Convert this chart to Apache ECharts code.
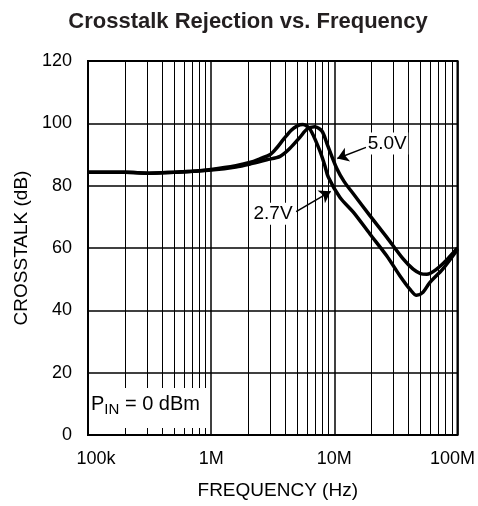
<!DOCTYPE html>
<html><head><meta charset="utf-8">
<script src="https://cdn.jsdelivr.net/npm/echarts@6/dist/echarts.min.js"></script>
<style>html,body{margin:0;padding:0;background:#fff}#c{width:478px;height:506px}</style>
</head><body><div id="c"></div>
<script>
// ---- data ----
const tickLabels = ['100k', '1M', '10M', '100M'];
const yTickValues = [0, 20, 40, 60, 80, 100, 120];

// 5.0V supply curve (frequency in Hz, crosstalk in dB)
const freq50 = [1e5, 2e5, 3.16e5, 5e5, 7.08e5, 1e6, 1.585e6, 2.09e6, 2.82e6, 3.63e6, 4.365e6,
  5.25e6, 6.03e6, 6.92e6, 7.94e6, 8.71e6, 1.047e7, 1.202e7, 1.426e7, 1.945e7, 2.661e7,
  3.622e7, 4.365e7, 5.012e7, 5.623e7, 6.761e7, 8.318e7, 1e8];
const db50 = [84.3, 84.3, 84.0, 84.3, 84.6, 85.0, 86.0, 87.0, 88.3, 89.4, 92.0,
  95.5, 98.2, 98.9, 97.5, 93.5, 85.5, 81.3, 77.4, 70.4, 63.5,
  56.5, 53.2, 51.8, 51.6, 53.2, 56.5, 60.0];

// 2.7V supply curve
const freq27 = [1e5, 2e5, 3.16e5, 5e5, 7.08e5, 1e6, 1.585e6, 2.09e6, 2.51e6, 3.02e6, 3.39e6,
  3.89e6, 4.47e6, 5.01e6, 5.56e6, 6.31e6, 7.59e6, 8.32e6, 8.93e6, 1.112e7, 1.426e7, 1.945e7,
  2.661e7, 3.404e7, 4.102e7, 4.656e7, 5.248e7, 5.957e7, 7.586e7, 1e8];
const db27 = [84.3, 84.3, 84.0, 84.3, 84.6, 85.2, 86.4, 87.5, 88.7, 90.0, 92.0,
  95.0, 97.8, 99.2, 99.6, 98.3, 91.4, 86.8, 82.8, 76.2, 71.5, 64.5,
  57.5, 51.1, 46.8, 44.8, 45.8, 48.9, 53.2, 59.5];

// annotations (data coordinates)
const label50 = {text: '5.0V', at: [2.69e7, 93.5], arrowFrom: [1.81e7, 92.3], arrowTo: [1.057e7, 88.7]};
const label27 = {text: '2.7V', at: [3.18e6, 71.0], arrowFrom: [4.9e6, 71.7], arrowTo: [9.35e6, 78.2]};

// minor log grid lines (2..9 x each decade)
const decades = [1e5, 1e6, 1e7];
const minorMult = [2, 3, 4, 5, 6, 7, 8, 9];

const FONT = 'Liberation Sans, Arial, Helvetica, sans-serif';
const minorLines = [];
decades.forEach(d => minorMult.forEach(m => minorLines.push({xAxis: d * m})));

const zip = (xs, ys) => xs.map((x, i) => [x, ys[i]]);

function annotation(a) {
  return {
    markLine: {
      silent: true, animation: false,
      symbol: ['none', 'arrow'], symbolSize: 11,
      label: {show: false},
      lineStyle: {color: '#000', width: 1.5, type: 'solid'},
      data: [[{coord: a.arrowFrom}, {coord: a.arrowTo}]]
    },
    markPoint: {
      silent: true, animation: false,
      data: [{
        coord: a.at, symbol: 'rect', symbolSize: [42, 22],
        itemStyle: {color: '#fff'},
        label: {show: true, position: 'inside', formatter: a.text, color: '#000',
          fontSize: 19, fontFamily: FONT}
      }]
    }
  };
}

const chart = echarts.init(document.getElementById('c'), null, {renderer: 'canvas'});
const option = {
  animation: false,
  backgroundColor: '#fff',
  title: {
    text: 'Crosstalk Rejection vs. Frequency',
    left: 243, textAlign: 'center', top: 6,
    textStyle: {fontSize: 22, fontWeight: 'bold', color: '#231f20', fontFamily: FONT}
  },
  grid: {left: 88, top: 61, width: 370, height: 374, show: true,
    borderColor: '#000', borderWidth: 2, backgroundColor: 'transparent'},
  xAxis: {
    type: 'log', logBase: 10, min: 1e5, max: 1e8,
    name: 'FREQUENCY (Hz)', nameLocation: 'middle', nameGap: 46,
    nameTextStyle: {fontSize: 19, color: '#000', fontFamily: FONT, padding: [0, 0, 0, 10]},
    axisLine: {show: false}, axisTick: {show: false},
    splitLine: {show: true, lineStyle: {color: '#000', width: 1.5}},
    axisLabel: {
      color: '#000', fontSize: 18, fontFamily: FONT, margin: 15,
      formatter: v => {
        const i = Math.round(Math.log10(v)) - 5;
        const t = tickLabels[i];
        if (i === 0) return '{first|' + t + '}';
        if (i === tickLabels.length - 1) return '{last|' + t + '}';
        return t;
      },
      rich: {
        first: {fontSize: 18, fontFamily: FONT, color: '#000', padding: [0, 0, 0, 16]},
        last: {fontSize: 18, fontFamily: FONT, color: '#000', padding: [0, 10, 0, 0]}
      }
    }
  },
  yAxis: {
    type: 'value', min: yTickValues[0], max: yTickValues[yTickValues.length - 1], interval: 20,
    name: 'CROSSTALK (dB)', nameLocation: 'middle', nameGap: 55,
    nameTextStyle: {fontSize: 19, color: '#000', fontFamily: FONT},
    axisLine: {show: false}, axisTick: {show: false},
    splitLine: {show: true, lineStyle: {color: '#000', width: 1.5}},
    axisLabel: {color: '#000', fontSize: 18, fontFamily: FONT, margin: 16}
  },
  series: [
    {
      type: 'line', data: [], z: 1, silent: true,
      markLine: {
        silent: true, animation: false, symbol: ['none', 'none'],
        label: {show: false},
        lineStyle: {color: '#000', width: 1, type: 'solid'},
        data: minorLines
      }
    },
    Object.assign({
      name: '5.0V', type: 'line', data: zip(freq50, db50), smooth: 0.3,
      showSymbol: false, z: 5,
      lineStyle: {color: '#000', width: 3.5}
    }, annotation(label50)),
    Object.assign({
      name: '2.7V', type: 'line', data: zip(freq27, db27), smooth: 0.3,
      showSymbol: false, z: 5,
      lineStyle: {color: '#000', width: 3.5}
    }, annotation(label27))
  ],
  graphic: [
    {type: 'rect', z: 100, shape: {x: 89, y: 388, width: 120, height: 40}, style: {fill: '#fff'}},
    {type: 'text', z: 101, x: 91, y: 393,
      style: {
        text: '{p|P}{s|IN}{p| = 0 dBm}',
        rich: {
          p: {fontSize: 20, fontFamily: FONT, fill: '#000', lineHeight: 22},
          s: {fontSize: 15, fontFamily: FONT, fill: '#000', padding: [12, 0, 0, 0], lineHeight: 22}
        }
      }}
  ]
};
chart.setOption(option);
</script>
</body></html>
